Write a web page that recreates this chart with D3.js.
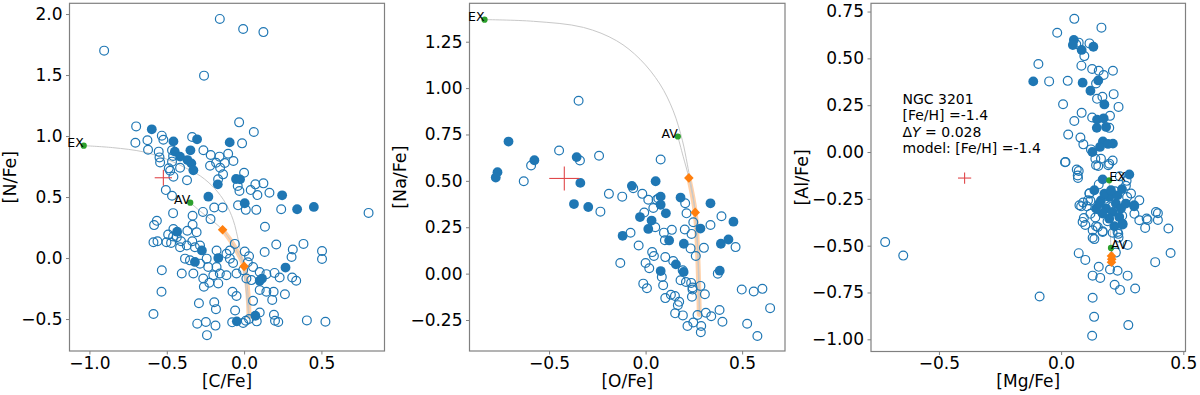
<!DOCTYPE html>
<html>
<head>
<meta charset="utf-8">
<script src="https://cdn.jsdelivr.net/npm/d3@7"></script>
<style>
  body { margin: 0; background: #fff; }
  text { font-family: "DejaVu Sans", sans-serif; }
</style>
</head>
<body>
<svg id="fig" width="1200" height="395"></svg>
<script>
// ---- panel 1: [C/Fe] vs [N/Fe] ----
const cnOpen = [
  [-0.905,1.70],[-0.157,1.96],[-0.006,1.877],[0.125,1.852],[-0.259,1.495],
  [-0.698,1.079],[-0.703,0.945],[-0.625,0.965],[-0.621,0.888],[-0.532,1.003],[-0.522,0.970],
  [-0.552,0.872],[-0.547,0.825],[-0.543,0.784],[-0.466,0.883],[-0.459,0.836],[-0.466,0.790],
  [-0.414,0.740],[-0.487,0.735],[-0.478,0.716],[-0.457,0.667],[-0.506,0.557],[-0.466,0.511],
  [-0.336,0.992],[-0.369,0.637],[-0.263,0.883],[-0.216,0.844],[-0.220,0.757],[-0.181,0.781],
  [-0.159,0.831],[-0.155,0.740],[-0.136,0.686],[-0.125,0.779],[-0.168,0.645],[-0.103,0.855],
  [-0.069,0.795],[-0.032,1.112],[-0.013,0.940],[0.063,1.033],[0.0,0.699],[-0.041,0.590],
  [-0.030,0.549],[0.043,0.557],[0.073,0.604],[0.086,0.516],[0.125,0.612],[0.164,0.535],
  [-0.193,0.414],[-0.139,0.414],[-0.039,0.432],[0.011,0.395],[0.079,0.395],[0.240,0.40],
  [0.805,0.370],[-0.459,0.368],[-0.266,0.378],[-0.333,0.346],[-0.217,0.319],[-0.564,0.305],
  [-0.582,0.27],[-0.333,0.273],[0.135,0.257],[-0.457,0.238],[-0.367,0.224],[-0.491,0.192],
  [-0.459,0.176],[-0.307,0.211],[-0.586,0.13],[-0.56,0.138],[-0.502,0.13],[-0.472,0.124],
  [-0.408,0.138],[-0.335,0.138],[-0.435,0.170],[-0.371,0.103],[-0.414,0.089],[-0.318,0.089],
  [-0.285,0.103],[-0.178,0.062],[-0.092,0.062],[-0.06,0.116],[-0.114,0.035],[0.004,0.054],
  [0.032,0.014],[0.133,0.049],[0.208,0.111],[0.315,0.07],[0.384,0.116],[0.504,0.057],
  [-0.382,-0.005],[-0.350,-0.019],[-0.242,-0.005],[-0.092,-0.005],[0.504,-0.008],[0.307,0.008],
  [-0.285,-0.046],[-0.232,-0.073],[-0.178,-0.073],[-0.071,-0.041],[0.024,-0.035],[-0.006,-0.100],
  [-0.049,-0.127],[0.058,-0.073],[0.101,-0.114],[0.144,-0.132],[0.197,-0.122],[0.230,-0.160],
  [0.311,-0.160],[0.337,-0.186],[-0.532,-0.10],[-0.403,-0.127],[-0.328,-0.127],[-0.264,-0.168],
  [-0.199,-0.141],[-0.157,-0.127],[-0.114,-0.141],[0.015,-0.168],[0.047,-0.181],[-0.260,-0.235],
  [-0.225,-0.203],[-0.167,-0.208],[-0.534,-0.276],[-0.292,-0.370],[-0.193,-0.362],[-0.182,-0.419],
  [-0.075,-0.276],[-0.049,-0.311],[0.058,-0.351],[0.101,-0.262],[0.144,-0.276],[0.191,-0.276],
  [0.182,-0.343],[0.264,-0.297],[-0.058,-0.43],[0.101,-0.446],[0.193,-0.465],[-0.586,-0.459],
  [-0.303,-0.538],[-0.247,-0.524],[-0.185,-0.554],[-0.24,-0.632],[-0.077,-0.527],[0.011,-0.514],
  [0.032,-0.500],[-0.006,-0.532],[0.082,-0.519],[0.2,-0.514],[0.221,-0.524],[0.406,-0.511],
  [0.526,-0.522]
];
const cnFilled = [
  [-0.597,1.055],[-0.457,0.956],[-0.448,0.872],[-0.414,0.831],[-0.304,0.973],[-0.347,0.883],
  [-0.366,0.803],[-0.341,0.776],[-0.328,0.719],[-0.170,0.604],[-0.093,0.948],[-0.052,0.648],
  [-0.026,0.645],[0.246,0.514],[-0.231,0.503],[0.004,0.449],[0.343,0.40],[0.451,0.419],
  [-0.433,0.216],[-0.273,0.062],[-0.167,0.0],[-0.318,-0.032],[0.268,-0.078],[0.101,-0.186],
  [0.116,-0.168],[-0.047,-0.519],[0.073,-0.473]
];
const cnTrackEx = [[-1.037,0.921],[-0.85,0.905],[-0.65,0.87],[-0.5,0.81],[-0.38,0.74],[-0.28,0.67],
  [-0.19,0.57],[-0.12,0.45],[-0.07,0.31],[-0.035,0.13],[-0.015,0.0],[0.008,-0.2],[0.024,-0.4],[0.032,-0.5]];
const cnTrackAv = [[-0.348,0.454],[-0.28,0.38],[-0.2,0.3],[-0.139,0.232],[-0.08,0.13],[-0.035,0.03],
  [0.0,-0.068],[0.018,-0.2],[0.028,-0.35],[0.032,-0.5]];
const cnBand = [[-0.139,0.232],[-0.08,0.13],[-0.035,0.03],[0.0,-0.068],[0.018,-0.2],[0.028,-0.35],[0.032,-0.48]];
const cnDiamonds = [[-0.139,0.232],[0.0,-0.068]];
const cnEx = [-1.037,0.921], cnAv = [-0.348,0.454];
const cnErr = [-0.522,0.658,0.056,0.065];

// ---- panel 2: [O/Fe] vs [Na/Fe] ----
const onaOpen = [
  [-0.347,0.932],[-0.593,0.583],[-0.631,0.498],[-0.448,0.664],[-0.34,0.61],[-0.241,0.635],
  [0.078,0.615],[-0.19,0.43],[-0.121,0.415],[-0.064,0.46],[-0.017,0.43],[0.066,0.405],
  [0.014,0.398],[0.057,0.398],[-0.234,0.334],[-0.007,0.329],[0.040,0.354],[0.205,0.379],
  [0.212,0.325],[0.393,0.309],[0.05,0.25],[-0.078,0.22],[0.095,0.221],[0.136,0.236],[0.1,0.18],
  [0.203,0.238],[0.238,0.214],[0.247,0.277],[0.336,0.262],[0.233,0.136],[0.302,0.139],[0.466,0.143],
  [-0.036,0.152],[0.034,0.116],[0.043,0.095],[0.102,0.089],[0.26,0.095],[-0.131,0.057],[0.0,0.057],
  [0.019,0.029],[0.143,0.068],[0.192,0.018],[0.374,0.0],[0.084,-0.018],[-0.012,-0.054],[0.007,-0.079],
  [0.091,-0.063],[0.181,-0.036],[0.209,-0.045],[0.236,-0.05],[0.243,-0.075],[0.243,-0.086],
  [0.284,-0.066],[0.307,-0.111],[0.24,-0.125],[0.131,-0.114],[0.102,-0.132],[0.152,-0.121],
  [0.174,-0.152],[0.167,-0.17],[0.498,-0.086],[0.560,-0.096],[0.605,-0.082],[0.645,-0.186],
  [0.153,-0.214],[0.193,-0.225],[0.269,-0.223],[0.312,-0.211],[0.34,-0.230],[0.383,-0.196],
  [0.398,-0.259],[0.247,-0.263],[0.217,-0.282],[0.288,-0.282],[0.286,-0.316],[0.526,-0.27],
  [0.579,-0.336]
];
const onaFilled = [
  [-0.710,0.712],[-0.767,0.547],[-0.776,0.518],[-0.576,0.611],[-0.357,0.628],[-0.338,0.489],
  [0.052,0.498],[-0.071,0.473],[0.078,0.415],[0.181,0.41],[0.078,0.371],[-0.371,0.375],
  [-0.297,0.359],[-0.029,0.305],[0.031,0.286],[0.105,0.325],[0.336,0.379],[0.014,0.241],
  [-0.119,0.204],[0.122,0.179],[0.284,0.243],[0.455,0.280],[0.198,0.161],[0.390,0.161],
  [0.429,0.184],[0.157,0.05],[0.078,0.014],[0.197,0.009],[0.384,0.016]
];
const onaTrackEx = [[-0.834,1.369],[-0.581,1.36],[-0.322,1.327],[-0.15,1.255],[-0.029,1.156],[0.074,1.022],
  [0.143,0.878],[0.191,0.716],[0.216,0.59],[0.232,0.5],[0.257,0.336],[0.268,0.175],[0.276,-0.004],[0.281,-0.218]];
const onaTrackAv = [[0.167,0.739],[0.195,0.63],[0.224,0.516],[0.257,0.330],[0.27,0.1],[0.278,-0.22]];
const onaBand = [[0.224,0.516],[0.257,0.330],[0.27,0.1],[0.278,-0.22]];
const onaDiamonds = [[0.224,0.516],[0.257,0.330]];
const onaEx = [-0.834,1.369], onaAv = [0.167,0.739];
const onaErr = [-0.421,0.513,0.078,0.065];

// ---- panel 3: [Mg/Fe] vs [Al/Fe] ----
const mgalOpen = [
  [0.054,0.711],[0.165,0.664],[-0.016,0.637],[0.062,0.575],[0.072,0.584],[0.095,0.512],[0.116,0.580],
  [-0.093,0.47],[0.083,0.461],[0.127,0.443],[0.154,0.434],[0.174,0.411],[0.212,0.434],[-0.049,0.377],
  [0.027,0.38],[0.143,0.366],[0.215,0.309],[0.008,0.255],[0.147,0.284],[0.169,0.295],[0.235,0.241],
  [0.084,0.209],[0.127,0.184],[0.2,0.193],[0.054,0.166],[0.029,0.093],[0.197,0.129],[0.079,0.077],
  [0.091,0.041],[0.122,0.014],[0.14,-0.036],[0.163,-0.036],[0.211,-0.045],[0.193,-0.071],[0.152,-0.075],
  [0.016,-0.055],[0.064,-0.093],[0.069,-0.139],[0.268,-0.154],[0.154,-0.173],[0.116,-0.22],
  [0.075,-0.284],[0.09,-0.27],[0.116,-0.222],[0.11,-0.258],[0.12,-0.33],[0.088,-0.373],[0.129,-0.418],
  [0.15,-0.40],[0.170,-0.427],[0.231,-0.427],[0.235,-0.457],[0.32,-0.364],[0.35,-0.355],[0.388,-0.32],
  [0.30,-0.33],[0.286,-0.222],[0.265,-0.18],[0.32,-0.258],[0.018,-0.053],[0.072,-0.101],[0.068,-0.125],
  [0.143,-0.071],[0.197,-0.062],[0.24,-0.13],[0.18,-0.25],[0.21,-0.29],[0.16,-0.31],[0.25,-0.34],
  [0.19,-0.37],[0.27,-0.24],[0.14,-0.35],[0.22,-0.21],
  [-0.72,-0.481],[-0.646,-0.553],[-0.088,-0.771],[0.072,-0.54],[0.099,-0.576],[0.154,-0.613],
  [0.129,-0.66],[0.16,-0.672],[0.2,-0.627],[0.231,-0.634],[0.272,-0.66],[0.219,-0.709],[0.241,-0.736],
  [0.303,-0.729],[0.129,-0.778],[0.135,-0.88],[0.127,-0.981],[0.275,-0.924],[0.385,-0.588],
  [0.448,-0.539],[0.439,-0.408],[0.344,-0.405],[0.354,-0.363],[0.396,-0.327],[0.396,-0.363],
  [0.224,-0.537],[0.272,-0.496],[0.082,-0.29],[0.105,-0.29],[0.093,-0.352],[0.099,-0.39],
  [0.129,-0.458],[0.136,-0.465],[0.143,-0.396],[0.17,-0.423],[0.211,-0.431],[0.234,-0.437],[0.12,-0.26]
];
const mgalFilled = [
  [0.052,0.598],[0.048,0.571],[0.084,0.545],[0.132,0.562],[-0.114,0.377],[0.088,0.37],[0.152,0.382],
  [0.120,0.327],[0.177,0.254],[0.147,0.173],[0.174,0.18],[0.146,0.129],[0.184,0.134],[0.171,0.057],
  [0.159,0.027],[0.192,0.043],[0.212,0.045],[0.128,0.0],[0.17,-0.146],[0.279,-0.12],[0.249,-0.198],
  [0.163,-0.258],[0.197,-0.24],[0.224,-0.275],[0.184,-0.302],[0.211,-0.32],[0.245,-0.302],[0.265,-0.275],
  [0.299,-0.284],[0.238,-0.347],[0.197,-0.356],[0.170,-0.329],[0.143,-0.302],[0.251,-0.382],[0.218,-0.396],
  [0.156,-0.275],[0.177,-0.222],[0.231,-0.231],[0.136,-0.204],[0.204,-0.204],[0.252,-0.387],[0.299,-0.29]
];
const mgalTrackEx = [[0.197,-0.151],[0.199,-0.3],[0.202,-0.45],[0.204,-0.512],[0.206,-0.56]];
const mgalTrackAv = [[0.204,-0.512],[0.206,-0.56],[0.207,-0.59]];
const mgalBand = [[0.206,-0.545],[0.207,-0.595]];
const mgalDiamonds = [[0.206,-0.555],[0.207,-0.572],[0.206,-0.588]];
const mgalEx = [0.197,-0.151], mgalAv = [0.204,-0.512];
const mgalErr = [-0.395,-0.139,0.027,0.03];

const noteLines = ["NGC 3201", "[Fe/H] =-1.4", "ΔY = 0.028", "model: [Fe/H] =-1.4"];

const blue = "#1f77b4", green = "#2ca02c", orange = "#ff7f0e";
const svg = d3.select("#fig");

const panels = [
  { box: [69.5, 384.5, 3.3, 351], xDom: [-1.129, 0.908], yDom: [-0.762, 2.088],
    xTicks: [-1, -0.5, 0, 0.5], yTicks: [-0.5, 0, 0.5, 1, 1.5, 2], yFmt: ".1f",
    xLab: "[C/Fe]", yLab: "[N/Fe]", yLabX: 16, open: cnOpen, filled: cnFilled,
    trackEx: cnTrackEx, trackAv: cnTrackAv, band: cnBand, diamonds: cnDiamonds,
    ex: cnEx, av: cnAv, err: cnErr, labAnchor: "end" },
  { box: [469.5, 785, 3.3, 351], xDom: [-0.912, 0.722], yDom: [-0.417, 1.457],
    xTicks: [-0.5, 0, 0.5], yTicks: [-0.25, 0, 0.25, 0.5, 0.75, 1, 1.25], yFmt: ".2f",
    xLab: "[O/Fe]", yLab: "[Na/Fe]", yLabX: 406, open: onaOpen, filled: onaFilled,
    trackEx: onaTrackEx, trackAv: onaTrackAv, band: onaBand, diamonds: onaDiamonds,
    ex: onaEx, av: onaAv, err: onaErr, labAnchor: "end" },
  { box: [871, 1185.5, 3.3, 351.5], xDom: [-0.778, 0.509], yDom: [-1.065, 0.794],
    xTicks: [-0.5, 0, 0.5], yTicks: [-1, -0.75, -0.5, -0.25, 0, 0.25, 0.5, 0.75], yFmt: ".2f",
    xLab: "[Mg/Fe]", yLab: "[Al/Fe]", yLabX: 808, open: mgalOpen, filled: mgalFilled,
    trackEx: mgalTrackEx, trackAv: mgalTrackAv, band: mgalBand, diamonds: mgalDiamonds,
    ex: mgalEx, av: mgalAv, err: mgalErr, labAnchor: "start", note: noteLines }
];

panels.forEach((p) => {
  const [x0, x1, y0, y1] = p.box;
  const x = d3.scaleLinear().domain(p.xDom).range([x0, x1]);
  const y = d3.scaleLinear().domain(p.yDom).range([y1, y0]);
  const g = svg.append("g");

  // axes
  const xAxis = d3.axisBottom(x).tickValues(p.xTicks).tickFormat(d3.format(".1f"))
    .tickSize(3.5).tickPadding(2);
  const yAxis = d3.axisLeft(y).tickValues(p.yTicks).tickFormat(d3.format(p.yFmt))
    .tickSize(3.5).tickPadding(3.5);
  const gx = g.append("g").attr("transform", `translate(0,${y1})`).call(xAxis);
  const gy = g.append("g").attr("transform", `translate(${x0},0)`).call(yAxis);
  [gx, gy].forEach((a) => {
    a.select(".domain").remove();
    a.selectAll("line").attr("stroke", "#808080").attr("stroke-width", 1);
    a.selectAll("text").attr("font-size", 17).attr("fill", "#000")
      .attr("font-family", "DejaVu Sans, sans-serif");
  });

  g.append("rect").attr("x", x0).attr("y", y0).attr("width", x1 - x0).attr("height", y1 - y0)
    .attr("fill", "none").attr("stroke", "#808080").attr("stroke-width", 1.2);

  g.append("text").attr("x", (x0 + x1) / 2).attr("y", 387).attr("text-anchor", "middle")
    .attr("font-size", 17).text(p.xLab);
  g.append("text").attr("transform", `translate(${p.yLabX},${(y0 + y1) / 2}) rotate(-90)`)
    .attr("text-anchor", "middle").attr("font-size", 17.5).text(p.yLab);

  const plot = g.append("g");
  const line = d3.line().x((d) => x(d[0])).y((d) => y(d[1])).curve(d3.curveCatmullRom);

  // model tracks
  plot.append("path").attr("d", line(p.band)).attr("fill", "none")
    .attr("stroke", orange).attr("stroke-opacity", 0.35).attr("stroke-width", 5)
    .attr("stroke-linecap", "round");
  [p.trackEx, p.trackAv].forEach((t) => {
    plot.append("path").attr("d", line(t)).attr("fill", "none")
      .attr("stroke", "#c8c8c8").attr("stroke-width", 1);
  });

  // observed stars
  plot.selectAll(".open").data(p.open).enter().append("circle")
    .attr("cx", (d) => x(d[0])).attr("cy", (d) => y(d[1])).attr("r", 4.4)
    .attr("fill", "none").attr("stroke", blue).attr("stroke-width", 1.2);
  plot.selectAll(".filled").data(p.filled).enter().append("circle")
    .attr("cx", (d) => x(d[0])).attr("cy", (d) => y(d[1])).attr("r", 4.9)
    .attr("fill", blue);

  // model markers
  const sq = d3.symbol().type(d3.symbolSquare).size(46);
  plot.selectAll(".dia").data(p.diamonds).enter().append("path")
    .attr("d", sq).attr("fill", orange)
    .attr("transform", (d) => `translate(${x(d[0])},${y(d[1])}) rotate(45)`);

  [["EX", p.ex], ["AV", p.av]].forEach(([lab, pt]) => {
    plot.append("circle").attr("cx", x(pt[0])).attr("cy", y(pt[1])).attr("r", 3.1).attr("fill", green);
    plot.append("text").attr("x", x(pt[0])).attr("y", y(pt[1]) + 1)
      .attr("text-anchor", p.labAnchor).attr("font-size", 12.5).text(lab);
  });

  // error cross
  const [ex, ey, dx, dy] = p.err;
  const cross = plot.append("g").attr("stroke", "#e0484b").attr("stroke-width", 1.1);
  cross.append("line").attr("x1", x(ex - dx)).attr("x2", x(ex + dx)).attr("y1", y(ey)).attr("y2", y(ey));
  cross.append("line").attr("x1", x(ex)).attr("x2", x(ex)).attr("y1", y(ey - dy)).attr("y2", y(ey + dy));

  if (p.note) {
    p.note.forEach((s, i) => {
      const t = plot.append("text").attr("x", 902.5).attr("y", 104 + i * 16.3).attr("font-size", 14);
      if (s.startsWith("ΔY")) {
        t.append("tspan").text("Δ");
        t.append("tspan").attr("font-style", "italic").text("Y");
        t.append("tspan").text(" = 0.028");
      } else {
        t.text(s);
      }
    });
  }
});
</script>
</body>
</html>
